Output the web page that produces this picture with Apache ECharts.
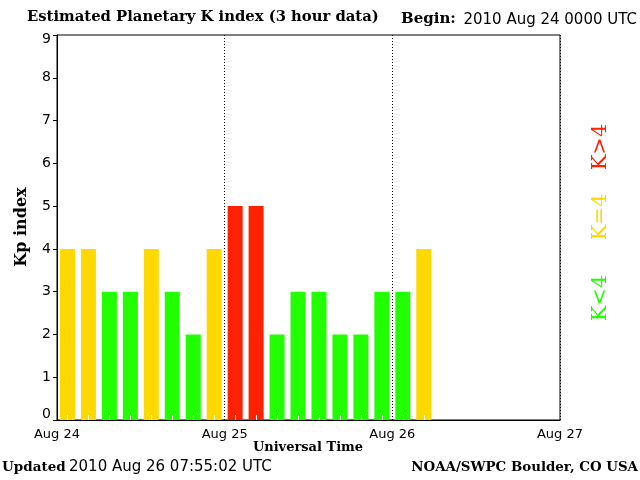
<!DOCTYPE html>
<html>
<head>
<meta charset="utf-8">
<script src="https://cdn.jsdelivr.net/npm/echarts@6/dist/echarts.min.js"></script>
<style>html,body{margin:0;padding:0;background:#fff}#c{width:640px;height:480px}</style>
</head>
<body>
<div id="c"></div>
<script>
// 3-hour slots over Aug 24 - Aug 26 (24 slots)
const slots = [];
for (const d of ['24','25','26']) for (const h of ['00','03','06','09','12','15','18','21']) slots.push('Aug ' + d + ' ' + h);
const kpValues = [4,4,3,3,4,3,2,4, 5,5,2,3,3,2,2,3, 3,4];
const dayLabels = ['Aug 24','Aug 25','Aug 26','Aug 27'];

const GREEN = '#22ff00', YELLOW = '#ffd800', RED = '#ff2200';
function colorFor(v){ return v < 4 ? GREEN : (v === 4 ? YELLOW : RED); }

const chart = echarts.init(document.getElementById('c'), null, {renderer:'canvas'});
const serif = 'DejaVu Serif';
const sans = 'DejaVu Sans';

chart.setOption({
  animation: false,
  backgroundColor: '#fff',
  grid: {left: 57, right: 80, top: 35, bottom: 60, show: true, borderColor: '#000', borderWidth: 1, backgroundColor: 'transparent'},
  xAxis: [
    {
      type: 'category', data: slots, boundaryGap: true, z: 10,
      axisLine: {show: false},
      axisTick: {show: true, alignWithLabel: true, inside: true, length: 5,
        interval: idx => idx < kpValues.length,
        lineStyle: {color: '#fff', width: 1}},
      axisLabel: {show: false}, splitLine: {show: false}
    },
    {
      type: 'value', min: 0, max: 72, interval: 24, position: 'bottom', z: 11,
      axisLine: {show: true, lineStyle: {color: '#000', width: 1}}, axisTick: {show: false},
      axisLabel: {show: true, color: '#000', fontFamily: sans, fontSize: 13, margin: 8,
        formatter: v => dayLabels[Math.round(v / 24)]},
      splitLine: {show: true, lineStyle: {color: '#000', width: 1, type: [1, 2]}}
    }
  ],
  yAxis: {
    type: 'value', min: 0, max: 9, interval: 1,
    axisLine: {show: true, lineStyle: {color: '#000'}},
    axisTick: {show: true, length: 4, lineStyle: {color: '#000'}},
    splitLine: {show: false},
    axisLabel: {color: '#000', fontFamily: sans, fontSize: 14, margin: 6,
      formatter: v => v === 0 ? '{lo|0}' : (v === 9 ? '{hi|9}' : String(v)),
      rich: {
        lo: {fontFamily: sans, fontSize: 14, color: '#000', padding: [0, 0, 12, 0]},
        hi: {fontFamily: sans, fontSize: 14, color: '#000', padding: [8, 0, 0, 0]}
      }
    }
  },
  series: [{
    type: 'bar', xAxisIndex: 0, yAxisIndex: 0, barWidth: 15,
    data: kpValues.map(v => ({value: v, itemStyle: {color: colorFor(v)}}))
  }],
  graphic: [
    {type: 'text', left: 27, top: 10, style: {text: 'Estimated Planetary K index (3 hour data)', font: 'bold 14.8px "' + serif + '"', fill: '#000'}},
    {type: 'text', left: 401, top: 12, style: {text: 'Begin:', font: 'bold 15px "' + serif + '"', fill: '#000'}},
    {type: 'text', right: 3, top: 13, style: {text: '2010 Aug 24 0000 UTC', font: '15px "' + sans + '"', fill: '#000'}},
    {type: 'text', x: 22, y: 227, rotation: Math.PI / 2, style: {text: 'Kp index', font: 'bold 16px "' + serif + '"', fill: '#000', align: 'center', verticalAlign: 'middle'}},
    {type: 'text', x: 308, y: 448, style: {text: 'Universal Time', font: 'bold 13px "' + serif + '"', fill: '#000', align: 'center', verticalAlign: 'middle'}},
    {type: 'text', left: 2, top: 460, style: {text: '{s|Updated} {n|2010 Aug 26 07:55:02 UTC}', rich: {
      s: {fontFamily: serif, fontWeight: 'bold', fontSize: 13.5, fill: '#000'},
      n: {fontFamily: sans, fontSize: 15, fill: '#000'}
    }}},
    {type: 'text', right: 2, top: 461, style: {text: 'NOAA/SWPC Boulder, CO USA', font: 'bold 13.4px "' + serif + '"', fill: '#000'}},
    {type: 'text', x: 601, y: 147, rotation: Math.PI / 2, style: {text: 'K>4', font: '21px "' + serif + '"', fill: RED, align: 'center', verticalAlign: 'middle'}},
    {type: 'text', x: 601, y: 217, rotation: Math.PI / 2, style: {text: 'K=4', font: '21px "' + serif + '"', fill: YELLOW, align: 'center', verticalAlign: 'middle'}},
    {type: 'text', x: 601, y: 298, rotation: Math.PI / 2, style: {text: 'K<4', font: '21px "' + serif + '"', fill: GREEN, align: 'center', verticalAlign: 'middle'}}
  ]
});
</script>
</body>
</html>
